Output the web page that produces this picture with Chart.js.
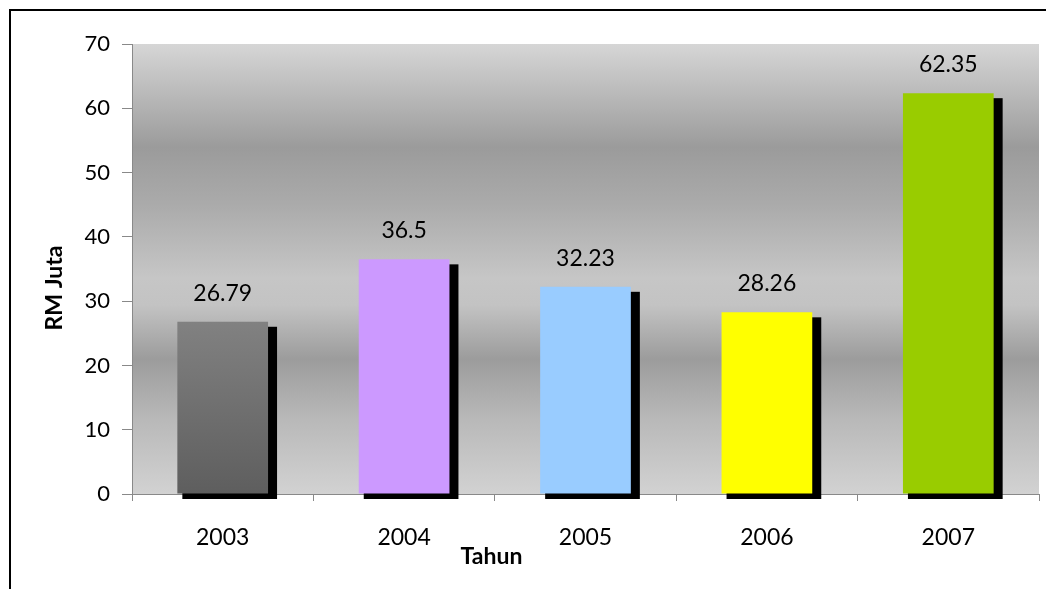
<!DOCTYPE html>
<html>
<head>
<meta charset="utf-8">
<script src="https://cdn.jsdelivr.net/npm/chart.js@4.4.1/dist/chart.umd.min.js"></script>
<style>
  html, body { margin: 0; padding: 0; background: #fff; }
  #wrap { position: relative; width: 1046px; height: 589px; }
</style>
</head>
<body>
<div id="wrap"><canvas id="c" width="1046" height="589"></canvas></div>
<script>
// Annual figures (RM Juta) by year
const years = ['2003', '2004', '2005', '2006', '2007'];
const amounts = [26.79, 36.5, 32.23, 28.26, 62.35];
const barColors = ['#707070', '#cc99ff', '#99ccff', '#ffff00', '#99cc00'];
const yTicks = [0, 10, 20, 30, 40, 50, 60, 70];
const xTitle = 'Tahun';
const yTitle = 'RM Juta';

const FONT = 'Lato, "Open Sans", sans-serif';
const AXIS_GREY = '#898989';

// first bar carries a soft vertical grey gradient
function barFill(ctx) {
  const chart = ctx.chart;
  const area = chart.chartArea;
  if (ctx.dataIndex !== 0 || !area) return barColors[ctx.dataIndex];
  const top = chart.scales.y.getPixelForValue(amounts[0]);
  const g = chart.ctx.createLinearGradient(0, top, 0, area.bottom);
  g.addColorStop(0, '#818181');
  g.addColorStop(1, '#5e5e5e');
  return g;
}

// white page, outer frame and banded plot background
const backdrop = {
  id: 'backdrop',
  beforeDraw(chart) {
    const { ctx, chartArea: a } = chart;
    ctx.save();
    ctx.fillStyle = '#ffffff';
    ctx.fillRect(0, 0, chart.width, chart.height);
    ctx.fillStyle = '#000000';
    ctx.fillRect(9, 9, 2, chart.height);
    ctx.fillRect(9, 9, chart.width, 2);
    const g = ctx.createLinearGradient(0, a.top, 0, a.bottom);
    g.addColorStop(0.00, '#d6d6d6');
    g.addColorStop(0.23, '#9b9b9b');
    g.addColorStop(0.36, '#ababab');
    g.addColorStop(0.52, '#c6c6c6');
    g.addColorStop(0.58, '#c3c3c3');
    g.addColorStop(0.70, '#9c9c9c');
    g.addColorStop(0.83, '#b8b8b8');
    g.addColorStop(1.00, '#d2d2d2');
    ctx.fillStyle = g;
    ctx.fillRect(a.left, a.top, a.right - a.left, a.bottom - a.top);
    ctx.restore();
  }
};

// black drop shadow behind every bar
const barShadow = {
  id: 'barShadow',
  beforeDatasetsDraw(chart) {
    const { ctx } = chart;
    const meta = chart.getDatasetMeta(0);
    ctx.save();
    ctx.fillStyle = '#000000';
    meta.data.forEach(el => {
      const p = el.getProps(['x', 'y', 'base', 'width'], true);
      const left = p.x - p.width / 2;
      ctx.fillRect(left + 5, p.y + 5, p.width + 4, p.base + 5.5 - (p.y + 5));
    });
    ctx.restore();
  }
};

// value above each bar, and the two axis titles
const annotations = {
  id: 'annotations',
  afterDatasetsDraw(chart) {
    const { ctx, chartArea: a } = chart;
    const meta = chart.getDatasetMeta(0);
    ctx.save();
    ctx.fillStyle = '#000000';
    ctx.font = '23px ' + FONT;
    ctx.textAlign = 'center';
    ctx.textBaseline = 'alphabetic';
    meta.data.forEach((el, i) => {
      const p = el.getProps(['x', 'y'], true);
      ctx.fillText(String(amounts[i]), p.x, p.y - 21);
    });

    ctx.font = 'bold 23px ' + FONT;
    ctx.textBaseline = 'middle';
    ctx.fillText(xTitle, a.left + 359.5, a.bottom + 63);

    ctx.translate(a.left - 77, a.top + 244);
    ctx.rotate(-Math.PI / 2);
    ctx.fillText(yTitle, 0, 0);
    ctx.restore();
  }
};

new Chart(document.getElementById('c'), {
  type: 'bar',
  data: {
    labels: years,
    datasets: [{
      data: amounts,
      backgroundColor: barFill,
      borderWidth: 0,
      barPercentage: 0.5,
      categoryPercentage: 1.0
    }]
  },
  options: {
    responsive: false,
    animation: false,
    devicePixelRatio: 1,
    layout: { padding: { top: 44, right: 7, left: 0, bottom: 0 } },
    plugins: {
      legend: { display: false },
      tooltip: { enabled: false },
      title: { display: false }
    },
    scales: {
      x: {
        offset: true,
        grid: {
          offset: true,
          drawOnChartArea: false,
          drawTicks: true,
          tickLength: 7,
          color: AXIS_GREY
        },
        border: { color: AXIS_GREY, width: 1 },
        ticks: {
          color: '#000000',
          font: { family: FONT, size: 23 },
          padding: 23,
          maxRotation: 0
        },
        afterFit(scale) { scale.height = 95; }
      },
      y: {
        min: 0,
        max: 70,
        afterBuildTicks(scale) { scale.ticks = yTicks.map(v => ({ value: v })); },
        grid: {
          drawOnChartArea: false,
          drawTicks: true,
          tickLength: 10,
          color: AXIS_GREY
        },
        border: { color: AXIS_GREY, width: 1 },
        ticks: {
          color: '#000000',
          font: { family: FONT, size: 22 },
          padding: 12
        },
        afterFit(scale) { scale.width = 132; }
      }
    }
  },
  plugins: [backdrop, barShadow, annotations]
});
</script>
</body>
</html>
